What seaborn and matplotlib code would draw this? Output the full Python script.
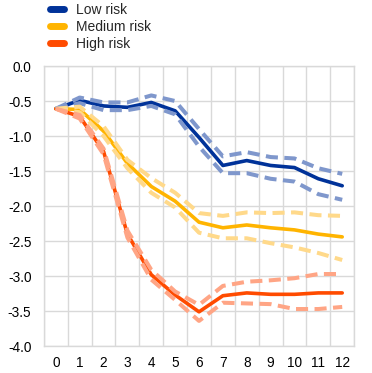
import numpy as np
import pandas as pd
import matplotlib.pyplot as plt
import seaborn as sns
from matplotlib.lines import Line2D

horizons = list(range(13))

low_mid = [-0.61, -0.49, -0.57, -0.59, -0.52, -0.64, -1.02, -1.42, -1.35, -1.42, -1.45, -1.61, -1.71]
low_hi = [-0.61, -0.45, -0.52, -0.52, -0.42, -0.50, -0.90, -1.29, -1.23, -1.30, -1.32, -1.46, -1.54]
low_lo = [-0.61, -0.53, -0.63, -0.63, -0.57, -0.69, -1.15, -1.53, -1.53, -1.61, -1.65, -1.83, -1.91]

med_mid = [-0.61, -0.62, -0.93, -1.39, -1.72, -1.93, -2.23, -2.31, -2.27, -2.31, -2.34, -2.40, -2.44]
med_hi = [-0.61, -0.58, -0.86, -1.34, -1.60, -1.81, -2.10, -2.14, -2.09, -2.10, -2.09, -2.13, -2.14]
med_lo = [-0.61, -0.66, -1.00, -1.46, -1.81, -2.02, -2.38, -2.46, -2.46, -2.53, -2.59, -2.67, -2.77]

high_mid = [-0.61, -0.72, -1.22, -2.40, -2.98, -3.27, -3.51, -3.28, -3.24, -3.26, -3.26, -3.24, -3.24]
high_hi = [-0.61, -0.70, -1.18, -2.35, -2.91, -3.22, -3.41, -3.14, -3.08, -3.06, -3.03, -2.97, -2.97]
high_lo = [-0.61, -0.75, -1.26, -2.45, -3.05, -3.34, -3.64, -3.38, -3.39, -3.40, -3.47, -3.47, -3.44]

labels = ['Low risk', 'Medium risk', 'High risk']
dark = ['#003299', '#FFB400', '#FF4B00']
light = ['#7F97CC', '#FFD98A', '#FFA585']

series = {
    'Low risk': (low_mid, low_hi, low_lo),
    'Medium risk': (med_mid, med_hi, med_lo),
    'High risk': (high_mid, high_hi, high_lo),
}

sns.set_style('white')
plt.rcParams['font.family'] = ['Liberation Sans', 'DejaVu Sans']

fig = plt.figure(figsize=(3.72, 3.73), dpi=100)
ax = fig.add_axes([0.118, 0.072, 0.834, 0.751])

# solid central lines first, bands on top
for name, col in zip(labels, dark):
    mid = series[name][0]
    sns.lineplot(x=horizons, y=mid, ax=ax, color=col, linewidth=2.6, zorder=3)
for name, col in zip(labels, light):
    _, hi, lo = series[name]
    for band in (hi, lo):
        sns.lineplot(x=horizons, y=band, ax=ax, color=col, linewidth=2.9,
                     linestyle=(0, (3.0, 1.6)), zorder=4)

ax.set_xlim(-0.5, 12.5)
ax.set_ylim(-4.0, 0.0)
ax.set_xticks(horizons)
ax.set_xticklabels([str(h) for h in horizons])
ax.set_xticks(np.arange(-0.5, 13, 1), minor=True)
ax.set_yticks(np.arange(-4.0, 0.01, 0.5))
ax.set_yticklabels(['%.1f' % v for v in np.arange(-4.0, 0.01, 0.5)])
ax.grid(which='minor', axis='x', color='#D9D9D9', linewidth=1)
ax.grid(which='major', axis='y', color='#D9D9D9', linewidth=1)
ax.tick_params(which='both', length=0, labelsize=9.8, colors='black')
ax.tick_params(axis='x', pad=7)
ax.tick_params(axis='y', pad=9)
for s in ax.spines.values():
    s.set_color('#D9D9D9')
    s.set_linewidth(1)

handles = [Line2D([0], [0], color=c, linewidth=5) for c in dark]
fig.legend(handles, labels, loc='upper left', bbox_to_anchor=(0.1, 1.025),
           frameon=False, fontsize=10, handlelength=1.0, handletextpad=0.9,
           labelspacing=0.22)

fig.savefig('out.png', dpi=100)
